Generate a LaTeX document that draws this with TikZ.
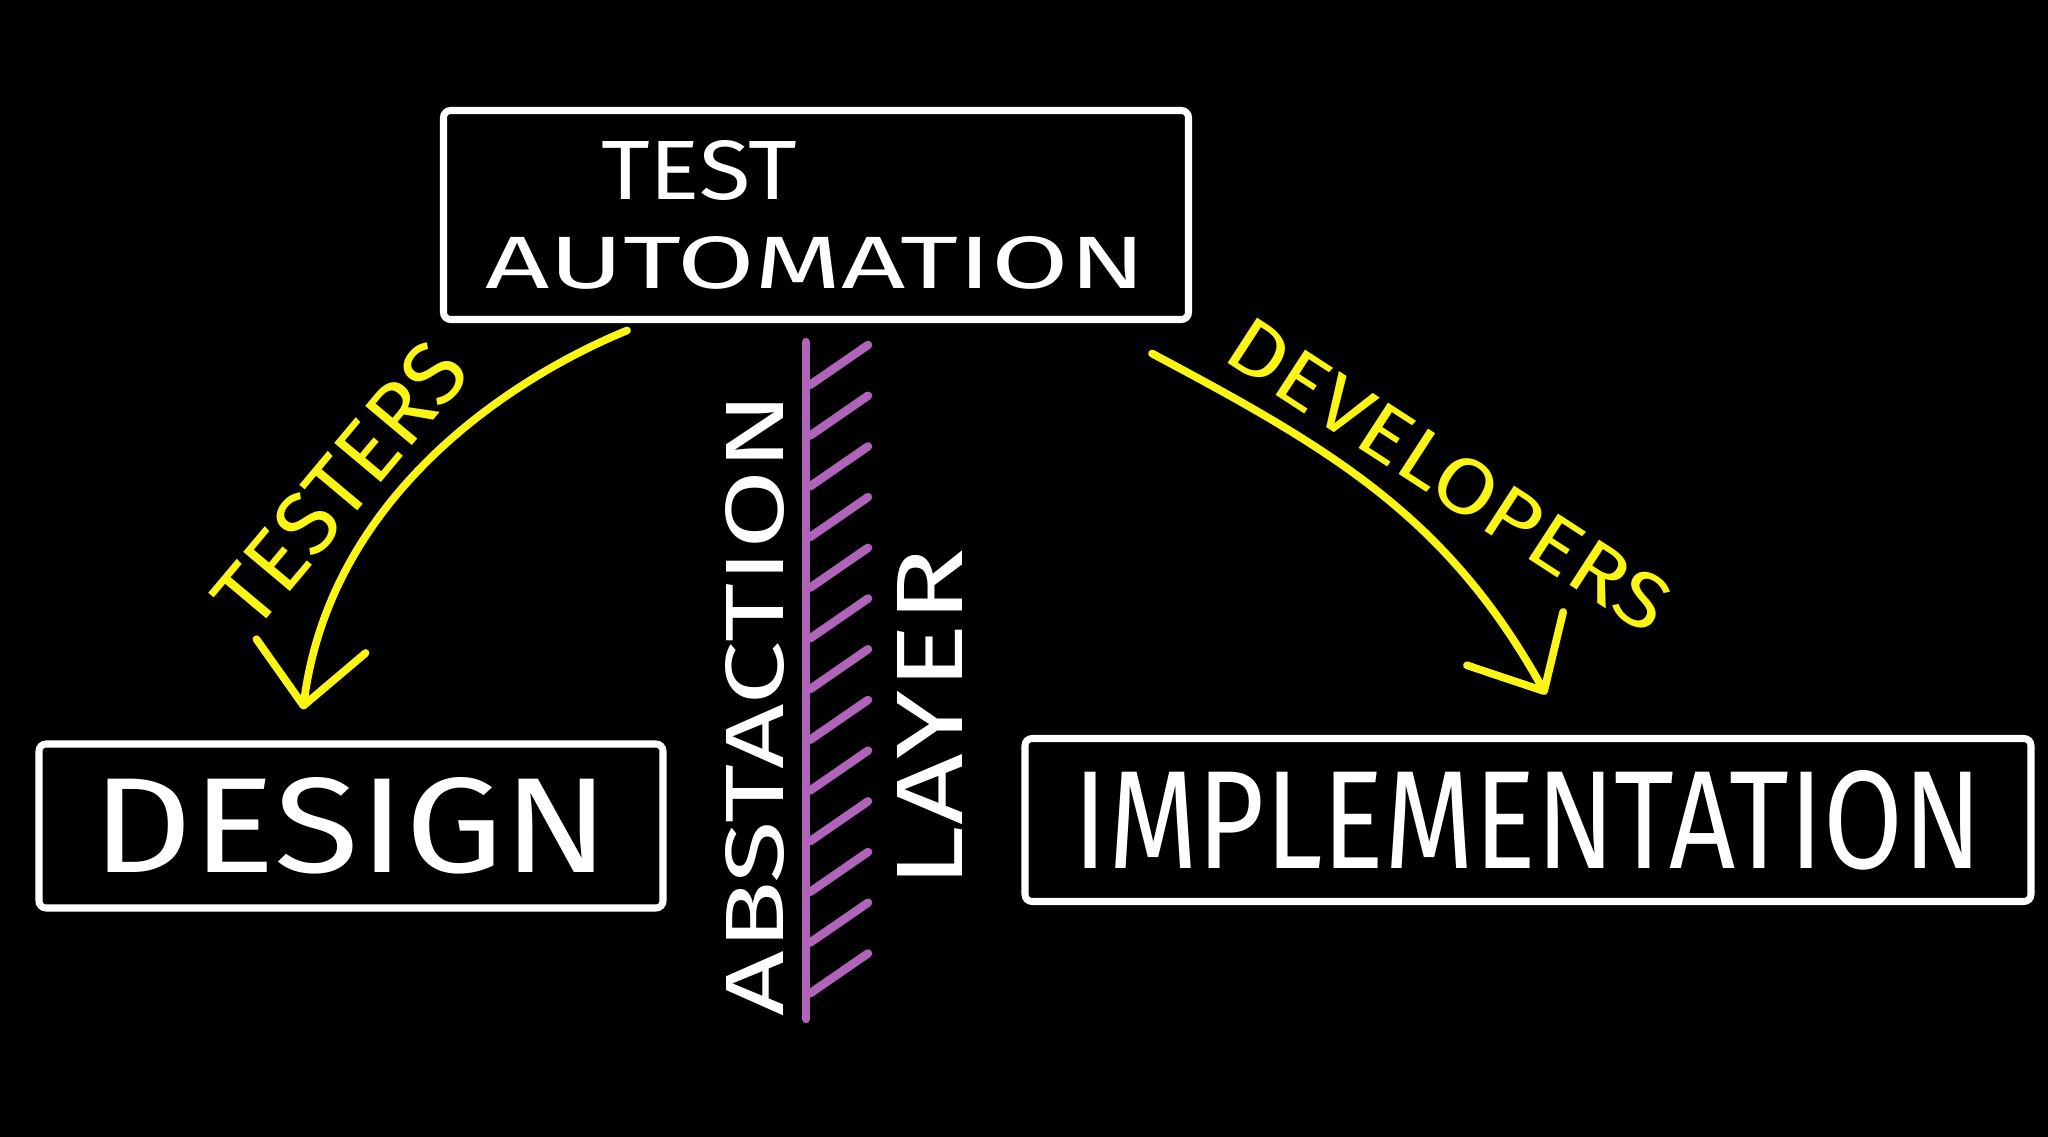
\documentclass[tikz,border=0pt]{standalone}
\usepackage{fontspec}
\setmainfont{Fira Sans}
\usepackage{graphicx}
\usetikzlibrary{positioning,arrows.meta}

\definecolor{chalkyellow}{RGB}{250,245,20}
\definecolor{chalkpurple}{RGB}{175,100,185}

\begin{document}
\begin{tikzpicture}[
    board/.style={draw=white, text=white, line width=2pt, rounded corners=2pt, inner sep=0pt},
    chalk/.style={text=white, inner sep=0pt},
    who/.style={text=chalkyellow, inner sep=0pt},
    pointer/.style={draw=chalkyellow, line width=2.2pt, line cap=round, -{Straight Barb[length=6mm, width=11mm, round]}},
    hatchline/.style={draw=chalkpurple, line width=2.4pt, line cap=round}]

    \useasboundingbox (0,0) rectangle (20.48,-11.37);
    \fill[black] (0,0) rectangle (20.48,-11.37);

    % the three boxes
    \node[board, minimum width=7.45cm, minimum height=2.09cm, align=center] (auto) at (8.16,-2.15)
        {\makebox[4.3cm][l]{\resizebox{1.96cm}{0.59cm}{TEST}}\\[0.33cm]\resizebox{6.6cm}{0.52cm}{AUTOMATION}};
    \node[board, minimum width=6.24cm, minimum height=1.64cm] (design) at (3.51,-8.26)
        {\resizebox{5.16cm}{0.95cm}{DESIGN}};
    \node[board, minimum width=10.06cm, minimum height=1.63cm] (impl) at (15.28,-8.20)
        {\resizebox{9.08cm}{0.98cm}{IMPLEMENTATION}};

    % abstraction layer
    \draw[hatchline] (8.06,-3.42) -- (8.06,-10.19);
    \foreach \k in {0,...,12}
        \draw[hatchline] (8.10,-3.85-0.507*\k) -- ++(0.58,0.40);
    \node[chalk, rotate=90] (abst) at (7.55,-7.04) {\resizebox{6.24cm}{0.58cm}{ABSTACTION}};
    \node[chalk, rotate=90] (layer) at (9.30,-7.18) {\resizebox{3.4cm}{0.65cm}{LAYER}};

    % who works where
    \coordinate (tfrom) at ([xshift=-1.89cm, yshift=-0.075cm]auto.south);
    \coordinate (tto) at ([xshift=-0.48cm, yshift=0.31cm]design.north);
    \coordinate (dfrom) at ([xshift=3.36cm, yshift=-0.305cm]auto.south);
    \coordinate (dto) at ([xshift=0.18cm, yshift=0.405cm]impl.north);

    \draw[pointer] (tfrom) .. controls +(-1.17,-0.48) and +(0.27,2.13) .. (tto);
    \draw[pointer] (dfrom) to[out=-28, in=119] (dto);

    \node[who, rotate=50] (testers) at (3.40,-4.84) {\resizebox{3.4cm}{0.62cm}{TESTERS}};
    \node[who, rotate=-33] (devs) at (14.49,-4.75) {\resizebox{5.1cm}{0.55cm}{DEVELOPERS}};
\end{tikzpicture}
\end{document}
